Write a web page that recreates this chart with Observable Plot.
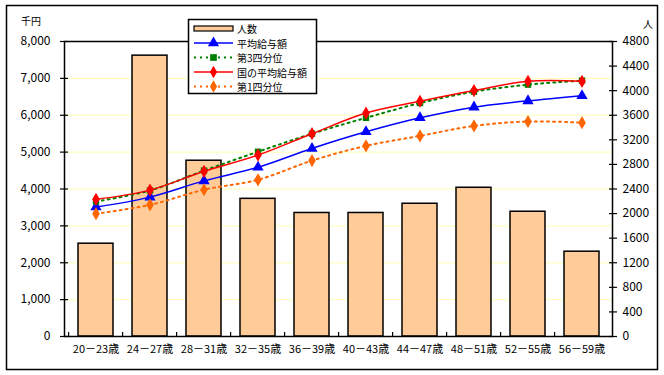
<!DOCTYPE html>
<html>
<head>
<meta charset="utf-8">
<script src="https://cdn.jsdelivr.net/npm/d3@7"></script>
<script src="https://cdn.jsdelivr.net/npm/@observablehq/plot@0.6"></script>
<style>
  html, body { margin: 0; padding: 0; background: white; }
  #chart { width: 664px; height: 375px; }
</style>
</head>
<body>
<div id="chart"></div>
<script>
const categories = ["20－23歳","24－27歳","28－31歳","32－35歳","36－39歳","40－43歳","44－47歳","48－51歳","52－55歳","56－59歳"];
const headcount   = [1510, 4570, 2860, 2240, 2010, 2010, 2160, 2420, 2030, 1380];
const avgPay      = [3510, 3780, 4220, 4590, 5100, 5550, 5930, 6220, 6390, 6530];
const q3Pay       = [3660, 3960, 4500, 5010, 5500, 5930, 6330, 6640, 6830, 6940];
const nationalPay = [3720, 3970, 4480, 4920, 5500, 6060, 6380, 6670, 6920, 6920];
const q1Pay       = [3330, 3570, 3980, 4250, 4770, 5170, 5440, 5710, 5830, 5800];
const leftTicks  = [0, 1000, 2000, 3000, 4000, 5000, 6000, 7000, 8000];
const rightTicks = [0, 400, 800, 1200, 1600, 2000, 2400, 2800, 3200, 3600, 4000, 4400, 4800];
const legendLabels = ["人数", "平均給与額", "第3四分位", "国の平均給与額", "第1四分位"];

const W = 664, H = 375;
const mL = 64, mR = 52, mT = 41, mB = 39;
const k = 8000 / 4800;
const step = (W - mL - mR) / categories.length;
const font = "'Noto Sans CJK JP', 'Noto Sans', sans-serif";

const data = categories.map((c, i) => ({
  cat: c, n: headcount[i], avg: avgPay[i], q3: q3Pay[i], nat: nationalPay[i], q1: q1Pay[i]
}));

const blank = () => "";

const svg = Plot.plot({
  width: W, height: H,
  marginLeft: mL, marginRight: mR, marginTop: mT, marginBottom: mB,
  style: { fontFamily: font, fontSize: "12px", color: "black", background: "white" },
  x: { type: "band", domain: categories, paddingInner: 0.36, paddingOuter: 0.18, axis: null, label: null },
  y: { domain: [0, 8000], axis: null, label: null },
  marks: [
    Plot.gridY(leftTicks, { stroke: "#ffffb0", strokeOpacity: 1, strokeWidth: 1 }),
    Plot.barY(data, { x: "cat", y: d => d.n * k, fill: "#ffcc99", stroke: "black", strokeWidth: 1.5 }),
    Plot.frame({ stroke: "black", strokeWidth: 1.5 }),
    // left axis
    Plot.axisY(leftTicks, { anchor: "left", tickSize: 8, dx: 4, tickFormat: blank, strokeWidth: 1.2, label: null }),
    Plot.axisY(leftTicks, { anchor: "left", tickSize: 0, tickPadding: 14, tickFormat: d3.format(","), fontSize: 12, label: null }),
    // right axis
    Plot.axisY(rightTicks.map(v => v * k), { anchor: "right", tickSize: 8, dx: -4, tickFormat: blank, strokeWidth: 1.2, label: null }),
    Plot.axisY(rightTicks.map(v => v * k), { anchor: "right", tickSize: 0, tickPadding: 10, tickFormat: d => String(Math.round(d / k)), fontSize: 12, label: null }),
    // x axis
    Plot.axisX(categories, { anchor: "bottom", tickSize: 4, dy: -4, dx: -step / 2, tickFormat: blank, strokeWidth: 1.2, label: null }),
    Plot.axisX(categories, { anchor: "bottom", tickSize: 0, tickPadding: 9, fontSize: 11, label: null }),
    // series
    Plot.line(data, { x: "cat", y: "avg", stroke: "#0000ff", strokeWidth: 1.5, curve: "catmull-rom" }),
    Plot.dot(data, { x: "cat", y: "avg", symbol: "triangle", fill: "#0000ff", r: 4.2 }),
    Plot.line(data, { x: "cat", y: "q3", stroke: "#008000", strokeWidth: 2, strokeDasharray: "2,4", curve: "catmull-rom" }),
    Plot.dot(data, { x: "cat", y: "q3", symbol: "square", fill: "#008000", r: 3.6 }),
    Plot.line(data, { x: "cat", y: "nat", stroke: "#ff0000", strokeWidth: 1.5, curve: "catmull-rom" }),
    Plot.dot(data, { x: "cat", y: "nat", symbol: "diamond", fill: "#ff0000", r: 4 }),
    Plot.line(data, { x: "cat", y: "q1", stroke: "#ff6600", strokeWidth: 2, strokeDasharray: "2,4", curve: "catmull-rom" }),
    Plot.dot(data, { x: "cat", y: "q1", symbol: "diamond", fill: "#ff6600", r: 4 })
  ]
});

document.getElementById("chart").appendChild(svg);

// decorations: outer border, unit labels, legend
const s = d3.select(svg);
s.append("rect").attr("x", 6.5).attr("y", 5.5).attr("width", 651).attr("height", 364)
  .attr("fill", "none").attr("stroke", "black").attr("stroke-width", 1.5);
s.append("text").attr("x", 21).attr("y", 20).attr("text-anchor", "start").attr("dominant-baseline", "central")
  .attr("font-size", 10).attr("font-family", font).text("千円");
s.append("text").attr("x", 648).attr("y", 23).attr("text-anchor", "middle").attr("dominant-baseline", "central")
  .attr("font-size", 10).attr("font-family", font).text("人");

const lg = s.append("g");
lg.append("rect").attr("x", 188.5).attr("y", 19.5).attr("width", 128).attr("height", 74)
  .attr("fill", "white").attr("stroke", "black").attr("stroke-width", 1.5);
const rowsY = [28.5, 43, 57.5, 72, 86.5];
const specs = [
  { type: "bar" },
  { color: "#0000ff", dash: null, sym: d3.symbolTriangle, size: 55 },
  { color: "#008000", dash: "2,4", sym: d3.symbolSquare, size: 45 },
  { color: "#ff0000", dash: null, sym: d3.symbolDiamond, size: 45 },
  { color: "#ff6600", dash: "2,4", sym: d3.symbolDiamond, size: 45 }
];
legendLabels.forEach((lab, i) => {
  const y = rowsY[i], sp = specs[i];
  if (sp.type === "bar") {
    lg.append("rect").attr("x", 194).attr("y", y - 2.5).attr("width", 39).attr("height", 5)
      .attr("fill", "#ffcc99").attr("stroke", "black").attr("stroke-width", 1.2);
  } else {
    lg.append("line").attr("x1", 194).attr("x2", 233).attr("y1", y).attr("y2", y)
      .attr("stroke", sp.color).attr("stroke-width", sp.dash ? 2 : 1.5)
      .attr("stroke-dasharray", sp.dash);
    lg.append("path").attr("d", d3.symbol(sp.sym, sp.size)())
      .attr("transform", `translate(213.5,${y})`).attr("fill", sp.color);
  }
  lg.append("text").attr("x", 237).attr("y", y).attr("text-anchor", "start").attr("dominant-baseline", "central")
    .attr("font-size", 10).attr("font-family", font).text(lab);
});
</script>
</body>
</html>
